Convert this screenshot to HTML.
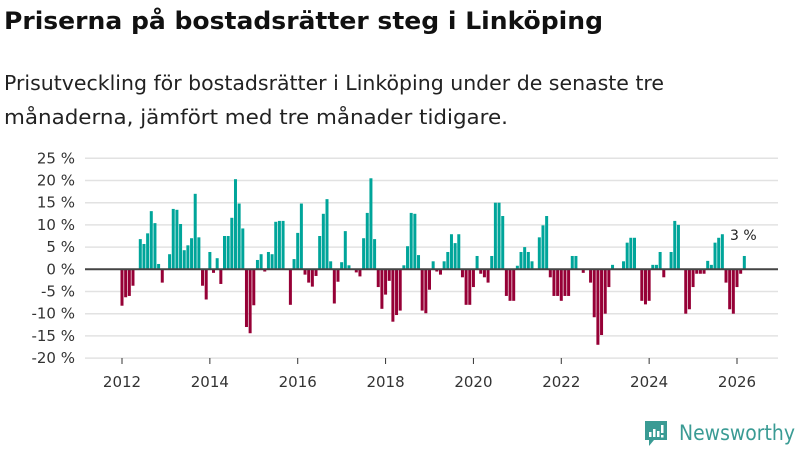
<!DOCTYPE html>
<html><head><meta charset="utf-8"><style>
body{margin:0;width:800px;height:450px;background:#fff;overflow:hidden;font-family:"Liberation Sans","DejaVu Sans",sans-serif;}
svg{display:block}
</style></head><body>
<svg id="chart" width="800" height="450">
<text x="4" y="29" font-size="24" font-weight="bold" fill="#111" textLength="599" lengthAdjust="spacingAndGlyphs" font-family="DejaVu Sans, sans-serif">Priserna på bostadsrätter steg i Linköping</text>
<text x="4" y="90" font-size="20" fill="#222" textLength="660" lengthAdjust="spacingAndGlyphs" font-family="DejaVu Sans, sans-serif">Prisutveckling för bostadsrätter i Linköping under de senaste tre</text>
<text x="4" y="124" font-size="20" fill="#222" textLength="504" lengthAdjust="spacingAndGlyphs" font-family="DejaVu Sans, sans-serif">månaderna, jämfört med tre månader tidigare.</text>
<g id="grid"></g><g id="bars"></g><g id="axes"></g>
<text x="730" y="240" font-size="14" fill="#222" font-family="DejaVu Sans, sans-serif">3 %</text>
<g>
<path d="M645 421 h22 v19 h-13 l-5 6 v-6 h-4 z" fill="#3a9b94"/>
<rect x="649" y="432" width="2.5" height="5" fill="#fff"/><rect x="653" y="429" width="2.5" height="8" fill="#fff"/><rect x="657" y="431" width="2.5" height="6" fill="#fff"/><rect x="661" y="425" width="2.5" height="8" fill="#fff"/><rect x="661" y="435" width="2.5" height="2.5" fill="#fff"/>
<text x="679" y="440" font-size="21" fill="#3a9b94" textLength="116" lengthAdjust="spacingAndGlyphs" font-family="DejaVu Sans, sans-serif">Newsworthy</text>
</g>
</svg>
<script>
const startYear = 2012;
const values = [-8.2,-6.3,-6.0,-3.7,0,6.8,5.7,8.1,13.1,10.4,1.2,-3.0,
0,3.4,13.6,13.4,10.2,4.3,5.4,7.0,17.0,7.2,-3.7,-6.8,
3.9,-0.8,2.5,-3.3,7.5,7.5,11.6,20.3,14.8,9.2,-13.0,-14.4,
-8.1,2.1,3.4,-0.5,3.9,3.4,10.7,10.9,10.9,0,-8.0,2.3,
8.2,14.8,-1.2,-3.0,-3.9,-1.5,7.5,12.5,15.8,1.8,-7.7,-2.8,
1.6,8.6,0.9,0,-0.7,-1.6,7.0,12.7,20.5,6.8,-4.0,-8.9,
-5.7,-2.6,-11.8,-10.3,-9.3,0.9,5.2,12.7,12.5,3.2,-9.3,-9.9,
-4.6,1.8,-0.5,-1.2,1.8,3.9,7.9,5.9,7.9,-1.8,-8.0,-8.0,
-4.0,3.0,-1.0,-1.8,-3.0,3.0,15.0,15.0,12.0,-6.0,-7.1,-7.1,
0.8,3.9,5.0,3.9,1.8,0,7.2,9.9,12.0,-1.8,-6.0,-6.0,
-7.1,-6.0,-6.0,3.0,3.0,0,-0.8,0,-3.0,-10.8,-17.0,-14.8,
-10.0,-4.0,1.0,0,0,1.8,6.0,7.1,7.1,0,-7.1,-7.9,
-7.1,1.0,1.0,3.9,-1.8,0,3.9,10.9,10.0,0,-10.0,-9.0,
-4.0,-1.0,-1.0,-1.0,1.9,1.0,6.0,7.1,7.9,-3.0,-9.0,-10.0,
-4.0,-1.0,3.0];
const yTicks = [25,20,15,10,5,0,-5,-10,-15,-20];
const xTicks = [2012,2014,2016,2018,2020,2022,2024,2026];
const NS='http://www.w3.org/2000/svg';
function y(v){return 269.3 - v*4.44;}
function x(t){return 122 + (t-2012)*615/14;}
function mk(tag,attrs,parent){const e=document.createElementNS(NS,tag);for(const k in attrs)e.setAttribute(k,attrs[k]);parent.appendChild(e);return e;}
const grid=document.getElementById('grid'),bars=document.getElementById('bars'),axes=document.getElementById('axes');
yTicks.forEach(v=>{
  const l=mk('line',{x1:85,x2:778,y1:y(v),y2:y(v),stroke:'#e2e2e2','stroke-width':1.5},grid);
  
  
  const t=mk('text',{x:75,y:y(v)+5,'text-anchor':'end','font-size':15,fill:'#333','font-family':'DejaVu Sans, sans-serif'},axes);
  t.textContent=v+' %';
  
  
});
xTicks.forEach(v=>{
  const tk=mk('line',{x1:x(v),x2:x(v),y1:358,y2:364,stroke:'#333','stroke-width':1},axes);
  
  
  const t=mk('text',{x:x(v),y:387,'text-anchor':'middle','font-size':15,fill:'#333','font-family':'DejaVu Sans, sans-serif'},axes);
  t.textContent=v;
  
  
});
values.forEach((v,i)=>{
  const cx=x(startYear+i/12);
  const r=mk('rect',{x:cx-1.5,width:3,y:Math.min(y(v),y(0)),height:Math.abs(y(v)-y(0)),fill:v>=0?'#00a59a':'#960036'},bars);
  
  
});
const z=mk('line',{x1:85,x2:778,y1:y(0),y2:y(0),stroke:'#444','stroke-width':2},axes);


</script>
</body></html>
